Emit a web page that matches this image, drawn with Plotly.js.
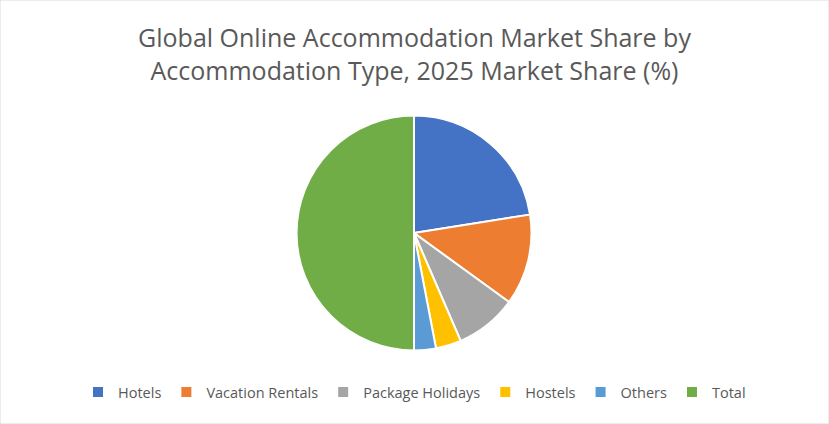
<!DOCTYPE html>
<html>
<head>
<meta charset="utf-8">
<script src="https://cdn.plot.ly/plotly-3.0.1.min.js"></script>
<style>
  html, body { margin: 0; padding: 0; background: #fff; }
  #chartdiv { width: 829px; height: 424px; }
</style>
</head>
<body>
<div id="chartdiv"></div>
<script>
// accommodation types and their share values
const types = ['Hotels', 'Vacation Rentals', 'Package Holidays', 'Hostels', 'Others', 'Total'];
const shares = [45, 25, 17, 7, 6, 100];
const colors = ['#4472C4', '#ED7D31', '#A5A5A5', '#FFC000', '#5B9BD5', '#70AD47'];

const W = 829, H = 424;
const cx = 414, cy = 233, r = 117.5;

const trace = {
  type: 'pie',
  labels: types,
  values: shares,
  sort: false,
  direction: 'clockwise',
  rotation: 0,
  textinfo: 'none',
  hoverinfo: 'label+percent',
  marker: { colors: colors, line: { color: '#ffffff', width: 2 } },
  domain: {
    x: [(cx - r) / W, (cx + r) / W],
    y: [1 - (cy + r) / H, 1 - (cy - r) / H]
  }
};

const layout = {
  width: W,
  height: H,
  margin: { l: 0, r: 0, t: 0, b: 0 },
  paper_bgcolor: '#ffffff',
  font: { family: 'Open Sans, sans-serif', color: '#595959' },
  title: {
    text: 'Global Online Accommodation Market Share by<br>Accommodation Type, 2025 Market Share (%)',
    font: { size: 25, color: '#595959' },
    x: 0.5, xanchor: 'center',
    y: 1 - 47 / H, yanchor: 'middle'
  },
  showlegend: true,
  legend: {
    orientation: 'h',
    x: 0.5, xanchor: 'center',
    y: 1 - 392 / H, yanchor: 'middle',
    font: { size: 14.5, color: '#595959' },
    itemwidth: 30,
    traceorder: 'normal'
  },
  shapes: [{
    type: 'rect', xref: 'paper', yref: 'paper',
    x0: 0, x1: 1, y0: 0, y1: 1,
    line: { color: '#D9D9D9', width: 1 }
  }]
};

Plotly.newPlot(chartdiv, [trace], layout, { displayModeBar: false, staticPlot: true });
</script>
</body>
</html>
